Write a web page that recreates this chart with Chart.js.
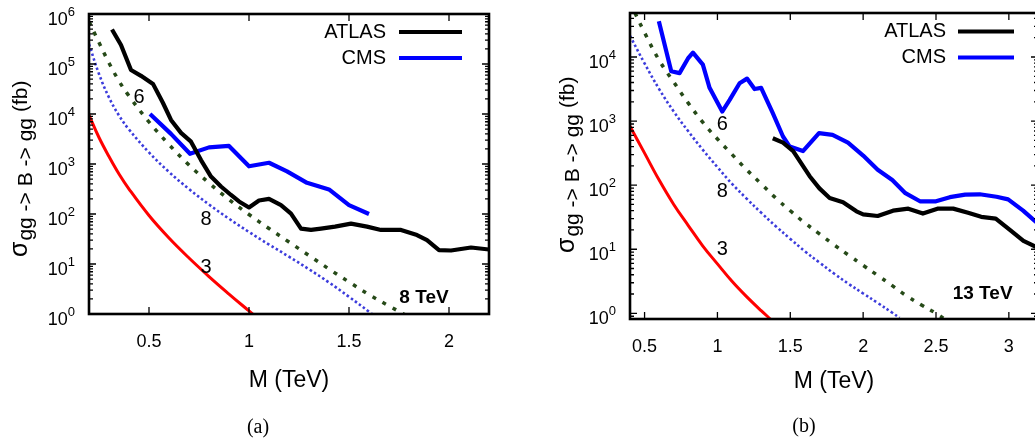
<!DOCTYPE html>
<html>
<head>
<meta charset="utf-8">
<script src="https://cdn.jsdelivr.net/npm/chart.js@4.4.1/dist/chart.umd.min.js"></script>
<style>
  html, body { margin: 0; padding: 0; background: #fff; overflow: hidden; }
  body { width: 1035px; height: 445px; position: relative; }
  .panel { position: absolute; top: 0; }
  #panelA { left: 0; }
  #panelB { left: 530px; }
</style>
</head>
<body>
<div class="panel" id="panelA"><canvas id="chartA" width="520" height="445"></canvas></div>
<div class="panel" id="panelB"><canvas id="chartB" width="540" height="445"></canvas></div>
<script>
const FONT = '"Liberation Sans", Arial, Helvetica, sans-serif';

// ---- (a) 8 TeV ----
const xTicksA = [0.5, 1, 1.5, 2];
const massA_atlas = [0.315, 0.36, 0.41, 0.46, 0.52, 0.57, 0.61, 0.66, 0.71, 0.76, 0.81, 0.86, 0.91, 0.95, 1.0, 1.05, 1.10, 1.16, 1.21, 1.26, 1.31, 1.36, 1.43, 1.51, 1.59, 1.66, 1.76, 1.84, 1.89, 1.95, 2.01, 2.11, 2.2];
const xsecA_atlas = [4.9e5, 2.4e5, 7.6e4, 5.8e4, 4.0e4, 1.66e4, 7600, 4200, 2800, 1200, 560, 355, 240, 178, 135, 186, 200, 151, 102, 51, 48, 51, 56, 64, 56, 48, 48, 38, 30, 19, 18.6, 21.4, 19.5];
const massA_cms = [0.505, 0.61, 0.705, 0.80, 0.90, 1.0, 1.10, 1.19, 1.29, 1.40, 1.50, 1.60];
const xsecA_cms = [1.0e4, 4000, 1600, 2150, 2300, 900, 1060, 710, 420, 310, 150, 100];
const massA_n6 = [0.2, 0.25, 0.3, 0.35, 0.4, 0.5, 0.6, 0.7, 0.8, 0.9, 1.0, 1.1, 1.2, 1.3, 1.4, 1.5, 1.6, 1.7, 1.8];
const xsecA_n6 = [7.1e5, 2.7e5, 1.05e5, 4.57e4, 2.29e4, 6920, 2450, 955, 417, 195, 97.7, 51.3, 27.5, 14.8, 7.94, 4.37, 2.45, 1.45, 0.87];
const massA_n8 = [0.2, 0.25, 0.3, 0.35, 0.4, 0.5, 0.6, 0.7, 0.8, 0.9, 1.0, 1.1, 1.2, 1.3, 1.4, 1.5, 1.6, 1.65];
const xsecA_n8 = [2.51e5, 6.31e4, 2.14e4, 9330, 4900, 1700, 692, 316, 155, 80.4, 43.7, 24.5, 14.0, 7.85, 4.27, 2.21, 1.11, 0.78];
const massA_n3 = [0.2, 0.25, 0.3, 0.35, 0.4, 0.5, 0.6, 0.7, 0.8, 0.9, 1.0, 1.05];
const xsecA_n3 = [9550, 3390, 1410, 631, 316, 93.3, 33.1, 13.2, 5.62, 2.51, 1.15, 0.78];

// ---- (b) 13 TeV ----
const xTicksB = [0.5, 1, 1.5, 2, 2.5, 3];
const massB_atlas = [1.38, 1.45, 1.52, 1.633, 1.70, 1.77, 1.862, 1.954, 2.0, 2.10, 2.205, 2.31, 2.41, 2.51, 2.618, 2.72, 2.81, 2.91, 3.007, 3.10, 3.2];
const xsecB_atlas = [540, 460, 340, 138, 89, 63, 54, 39, 35, 33, 40, 43, 36, 43, 43, 37, 32, 30, 20, 13.5, 10.5];
const massB_cms = [0.598, 0.683, 0.74, 0.798, 0.832, 0.90, 0.946, 1.033, 1.084, 1.152, 1.203, 1.255, 1.30, 1.38, 1.45, 1.496, 1.587, 1.697, 1.79, 1.896, 2.0, 2.10, 2.2, 2.29, 2.39, 2.50, 2.595, 2.70, 2.80, 2.915, 2.995, 3.098, 3.2];
const xsecB_cms = [3.6e4, 6000, 5600, 9500, 1.17e4, 7600, 3300, 1410, 2140, 3900, 4600, 3160, 3300, 1330, 575, 400, 340, 650, 610, 460, 290, 174, 120, 75, 56, 56, 65, 71, 72, 66, 60, 40, 25];
const massB_n6 = [0.4, 0.5, 0.6, 0.7, 0.8, 0.9, 1.0, 1.1, 1.2, 1.3, 1.4, 1.5, 1.6, 1.7, 1.8, 1.9, 2.0, 2.1, 2.2, 2.3, 2.4, 2.5, 2.56];
const xsecB_n6 = [7.1e4, 2.4e4, 8900, 4070, 1905, 955, 525, 302, 174, 105, 63, 39.8, 25.7, 17.4, 11.7, 8.1, 5.6, 3.9, 2.7, 1.86, 1.35, 1.0, 0.81];
const massB_n8 = [0.4, 0.5, 0.6, 0.7, 0.8, 0.9, 1.0, 1.1, 1.2, 1.3, 1.4, 1.5, 1.6, 1.7, 1.8, 1.9, 2.0, 2.1, 2.2, 2.25];
const xsecB_n8 = [2.14e4, 7940, 3160, 1410, 692, 355, 191, 105, 61.7, 37.2, 22.9, 14.5, 9.3, 6.2, 4.17, 2.88, 2.04, 1.45, 1.02, 0.85];
const massB_n3 = [0.4, 0.5, 0.6, 0.7, 0.8, 0.9, 1.0, 1.1, 1.2, 1.3, 1.37];
const xsecB_n3 = [832, 316, 120, 50, 23.4, 11.2, 5.9, 3.16, 1.82, 1.1, 0.79];

function pts(m, v) {
  return m.map((x, i) => ({ x: x, y: v[i] }));
}

function expLine(label, color, m, v) {
  return { label: label, data: pts(m, v), borderColor: color, borderWidth: 4.2,
           pointRadius: 0, tension: 0, borderJoinStyle: 'round', fill: false };
}

function theoryLine(label, color, width, dash, m, v) {
  return { label: label, data: pts(m, v), borderColor: color, borderWidth: width,
           borderDash: dash, pointRadius: 0, tension: 0.4, fill: false };
}

// gnuplot look: frame, inward ticks, 10^n labels, titles, legend, curve tags
const gnuplotDecor = {
  id: 'gnuplotDecor',
  afterDraw(chart, args, o) {
    const ctx = chart.ctx;
    const a = chart.chartArea;
    const xs = chart.scales.x, ys = chart.scales.y;
    ctx.save();
    ctx.strokeStyle = '#000';
    ctx.fillStyle = '#000';

    // tick marks on all four sides
    ctx.lineWidth = 1.3;
    ctx.beginPath();
    xs.ticks.forEach(t => {
      const px = xs.getPixelForValue(t.value);
      ctx.moveTo(px, a.bottom); ctx.lineTo(px, a.bottom - 7);
      ctx.moveTo(px, a.top); ctx.lineTo(px, a.top + 7);
    });
    const dLo = Math.floor(Math.log10(ys.min) + 1e-9);
    const dHi = Math.floor(Math.log10(ys.max) + 1e-9);
    const decades = [];
    for (let d = dLo; d <= dHi; d++) {
      for (let k = 1; k < 10; k++) {
        const v = k * Math.pow(10, d);
        if (v < ys.min * 0.999 || v > ys.max * 1.001) continue;
        const py = ys.getPixelForValue(v);
        const len = k === 1 ? 7 : 4;
        ctx.moveTo(a.left, py); ctx.lineTo(a.left + len, py);
        ctx.moveTo(a.right, py); ctx.lineTo(a.right - len, py);
        if (k === 1) decades.push(d);
      }
    }
    ctx.stroke();

    ctx.lineWidth = 2.6;
    ctx.strokeRect(a.left, a.top, a.right - a.left, a.bottom - a.top);

    // y tick labels 10^n
    const baseFont = '18px ' + FONT, supFont = '13px ' + FONT;
    ctx.textAlign = 'left';
    ctx.textBaseline = 'alphabetic';
    decades.forEach(d => {
      const py = ys.getPixelForValue(Math.pow(10, d));
      const sup = String(d);
      ctx.font = supFont;
      const ws = ctx.measureText(sup).width;
      ctx.font = baseFont;
      const wb = ctx.measureText('10').width;
      const right = a.left - o.tickGap;
      ctx.fillText('10', right - ws - wb, py + 11);
      ctx.font = supFont;
      ctx.fillText(sup, right - ws, py + 2);
    });

    // y axis title, rotated, with subscript
    ctx.save();
    ctx.translate(o.yTitle.x, o.yTitle.y);
    ctx.rotate(-Math.PI / 2);
    ctx.font = '25px ' + FONT;
    ctx.fillText('σ', 0, 0);
    let w = ctx.measureText('σ').width + 1;
    ctx.font = '21px ' + FONT;
    ctx.fillText('gg -> B -> gg', w, 5);
    w += ctx.measureText('gg -> B -> gg').width + 6;
    ctx.fillText('(fb)', w, 0);
    ctx.restore();

    // x axis title and caption
    ctx.textAlign = 'center';
    ctx.textBaseline = 'middle';
    ctx.font = '23px ' + FONT;
    ctx.fillText('M (TeV)', (a.left + a.right) / 2, o.xTitleY);
    ctx.font = '20px "Liberation Serif", "DejaVu Serif", serif';
    ctx.fillText(o.caption.text, o.caption.x, o.caption.y);

    // curve tags and energy label
    ctx.font = '20px ' + FONT;
    o.tags.forEach(t => {
      ctx.fillText(t.text, xs.getPixelForValue(t.x), ys.getPixelForValue(t.y));
    });
    ctx.font = 'bold 19px ' + FONT;
    ctx.fillText(o.energy.text, xs.getPixelForValue(o.energy.x), ys.getPixelForValue(o.energy.y));

    // legend: text right aligned, sample line after it
    const lg = o.legend;
    ctx.font = '20px ' + FONT;
    ctx.textAlign = 'right';
    lg.items.forEach((idx, i) => {
      const ds = chart.data.datasets[idx];
      const y = lg.y + i * lg.dy;
      ctx.fillStyle = '#000';
      ctx.fillText(ds.label, lg.textRight, y);
      ctx.strokeStyle = ds.borderColor;
      ctx.lineWidth = ds.borderWidth;
      ctx.beginPath();
      ctx.moveTo(lg.x0, y);
      ctx.lineTo(lg.x1, y);
      ctx.stroke();
    });
    ctx.restore();
  }
};

function makeChart(id, p) {
  return new Chart(document.getElementById(id), {
    type: 'line',
    data: { datasets: p.datasets },
    plugins: [gnuplotDecor],
    options: {
      responsive: false,
      animation: false,
      events: [],
      layout: { padding: { left: 0, top: p.padTop, right: p.padRight, bottom: 0 } },
      plugins: {
        legend: { display: false },
        tooltip: { enabled: false },
        gnuplotDecor: p.decor
      },
      scales: {
        x: {
          type: 'linear',
          min: p.xMin,
          max: p.xMax,
          grid: { display: false, drawTicks: false },
          border: { display: false },
          afterBuildTicks: s => { s.ticks = p.xTicks.map(v => ({ value: v })); },
          ticks: {
            color: '#000',
            font: { family: FONT, size: 18 },
            padding: 17,
            maxRotation: 0,
            callback: v => String(v)
          },
          afterFit: s => { s.height = p.xAxisHeight; }
        },
        y: {
          type: 'logarithmic',
          min: p.yMin,
          max: p.yMax,
          grid: { display: false, drawTicks: false },
          border: { display: false },
          ticks: { display: false },
          afterFit: s => { s.width = p.yAxisWidth; }
        }
      }
    }
  });
}

makeChart('chartA', {
  datasets: [
    expLine('ATLAS', '#000000', massA_atlas, xsecA_atlas),
    expLine('CMS', '#0000ff', massA_cms, xsecA_cms),
    theoryLine('6', '#264a18', 3.5, [4, 7.5], massA_n6, xsecA_n6),
    theoryLine('8', '#3c3cdc', 2.6, [2.5, 2.5], massA_n8, xsecA_n8),
    theoryLine('3', '#ff0000', 3, [], massA_n3, xsecA_n3)
  ],
  xMin: 0.2, xMax: 2.2, xTicks: xTicksA,
  yMin: 1, yMax: 1e6,
  padTop: 14, padRight: 31, yAxisWidth: 89, xAxisHeight: 131,
  decor: {
    tickGap: 14,
    yTitle: { x: 27, y: 257 },
    xTitleY: 381,
    caption: { text: '(a)', x: 258, y: 428 },
    tags: [
      { text: '6', x: 0.45, y: 2.1e4 },
      { text: '8', x: 0.785, y: 76 },
      { text: '3', x: 0.785, y: 8.7 }
    ],
    energy: { text: '8 TeV', x: 1.875, y: 2.1 },
    legend: { items: [0, 1], textRight: 386, x0: 399, x1: 462, y: 32, dy: 26 }
  }
});

makeChart('chartB', {
  datasets: [
    expLine('ATLAS', '#000000', massB_atlas, xsecB_atlas),
    expLine('CMS', '#0000ff', massB_cms, xsecB_cms),
    theoryLine('6', '#264a18', 3.5, [4, 7.5], massB_n6, xsecB_n6),
    theoryLine('8', '#3c3cdc', 2.6, [2.5, 2.5], massB_n8, xsecB_n8),
    theoryLine('3', '#ff0000', 3, [], massB_n3, xsecB_n3)
  ],
  xMin: 0.4, xMax: 3.2, xTicks: xTicksB,
  yMin: 0.815, yMax: 48600,
  padTop: 13, padRight: 32, yAxisWidth: 100, xAxisHeight: 126,
  decor: {
    tickGap: 14,
    yTitle: { x: 44, y: 253 },
    xTitleY: 382,
    caption: { text: '(b)', x: 274, y: 427 },
    tags: [
      { text: '6', x: 1.033, y: 870 },
      { text: '8', x: 1.033, y: 79 },
      { text: '3', x: 1.033, y: 10 }
    ],
    energy: { text: '13 TeV', x: 2.82, y: 2.0 },
    legend: { items: [0, 1], textRight: 416, x0: 428, x1: 484, y: 31.5, dy: 26 }
  }
});
</script>
</body>
</html>
